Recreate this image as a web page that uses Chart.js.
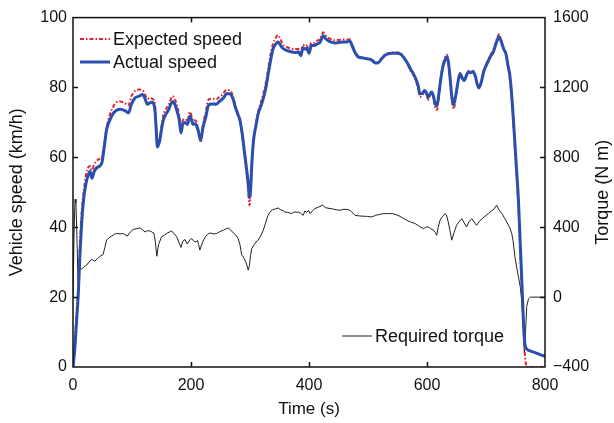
<!DOCTYPE html>
<html>
<head>
<meta charset="utf-8">
<script src="https://cdn.jsdelivr.net/npm/chart.js@4"></script>
<style>
  html, body { margin: 0; padding: 0; background: #fff; }
  #wrap { width: 614px; height: 423px; }
</style>
</head>
<body>
<div id="wrap"><canvas id="c" width="614" height="423"></canvas></div>
<script>
// Drive cycle: vehicle speed (km/h) and required torque (N m) over time (s)
const timeSpeed = [
  0, 3, 6, 9, 12, 15, 18, 22, 26, 29,
  32, 36, 40, 45, 49, 53, 57, 62, 68, 74,
  80, 88, 94, 99, 105, 112, 118, 122, 126, 130,
  134, 139, 141, 143, 147, 150, 153, 158, 162, 166,
  169, 173, 176, 180, 183, 186, 190, 194, 198, 201,
  203, 207, 210, 213, 216.5, 220, 225, 230, 236, 243,
  248, 252, 256, 260, 265, 269, 272, 275, 279, 283,
  287, 291, 294, 297, 299, 301, 303, 306, 310, 314,
  318, 322, 327, 331, 335, 339, 343, 347, 351, 355,
  362, 368, 373, 378, 382, 386, 390, 393, 396, 400,
  404, 409, 413, 419, 424, 428, 433, 438, 444, 450,
  458, 464, 469, 473, 478, 484, 490, 498, 505, 511,
  515, 519, 523, 529, 534, 541, 549, 555, 560, 565,
  569, 573, 577, 581, 585, 588, 592, 596, 599, 602,
  605, 608, 611, 614, 617, 620, 623, 627, 631, 633,
  636, 639, 642, 645, 649, 653, 656, 660, 663, 667,
  670, 674, 678, 682, 685, 688, 692, 696, 700, 704,
  708, 712, 716, 720, 722, 726, 730, 734, 737, 740,
  743, 746, 749, 752, 755, 758, 761, 764, 766, 769,
  775, 782, 790, 800
];

const actualSpeed = [
  0, 5, 13, 21, 33, 42, 48, 52.5, 55, 56,
  54, 56, 57, 57.5, 58.5, 63, 68, 70.5, 72.5, 73.5,
  73.8, 73.4, 72.7, 75.2, 77, 77.5, 78, 76.8, 75.2, 75.6,
  75.8, 73.2, 68, 63, 64.8, 68, 70.6, 72.5, 73.6, 75.3,
  76, 75, 73.4, 70.8, 67, 69.5, 70, 69.4, 71.8, 70.8,
  69.5, 69.6, 68.8, 67, 64.9, 68.3, 71.5, 75, 75.3, 75.2,
  76, 76.5, 77.2, 78.2, 78.2, 77.6, 76.3, 74.4, 72.5, 70.6,
  66.5, 61, 57, 52.5, 48.5, 50.6, 58, 64.9, 69, 72.5,
  74.5, 76.5, 80, 84, 87.8, 91, 92.3, 93, 92.3, 91.3,
  90.6, 90.3, 90.1, 90, 90.2, 89.1, 91.4, 91, 91.2, 89.8,
  92, 92, 92.4, 93, 94.8, 94, 93.3, 93, 92.7, 92.9,
  93, 93, 93.3, 92, 90, 88.7, 88.5, 88.2, 88, 87.2,
  87, 87.3, 88.2, 89.2, 89.6, 89.8, 89.8, 89.6, 88.7, 87.5,
  86.3, 85, 83.9, 82.5, 80.5, 78.2, 78.3, 79.1, 78.5, 77.2,
  78, 78.7, 77.5, 75.2, 74.8, 78, 82, 86, 88, 88.7,
  87.5, 83, 77.5, 75, 78, 82, 83.9, 82.6, 82, 83.5,
  84.4, 84.2, 84.4, 83.2, 81, 80, 81.5, 84.5, 86.2, 87.6,
  89, 90, 92, 94, 94.5, 93, 91, 89.5, 86.5, 84,
  79, 72, 64, 56, 47.7, 35.5, 23.5, 11, 6.5, 5.2,
  4.6, 4.2, 3.7, 3
];

const expectedSpeed = [
  0, 7, 15, 24, 36, 45, 50, 55, 57.2, 57.5,
  56.3, 58, 59, 59.6, 60.3, 64, 68.5, 72, 74.5, 75.8,
  76, 75.5, 74.9, 77.5, 79, 79.4, 79.2, 78, 76.8, 77,
  76.8, 75, 69, 63.5, 65.5, 69, 72, 74, 75, 76.8,
  77.5, 76.5, 75, 72, 68, 70.5, 71, 70.4, 73, 71.8,
  70.4, 70.6, 69.8, 67.5, 64.3, 69, 73, 76.6, 76.8, 76.6,
  77.3, 77.8, 78.6, 79.3, 79.2, 78.4, 77, 75, 73, 70.6,
  66, 60, 55.5, 50.5, 46.3, 49.5, 57.5, 64.9, 69.5, 73.2,
  75.5, 77.8, 81.5, 85.5, 89.5, 92.6, 94, 95, 94, 92.5,
  91.6, 91.2, 91, 91, 91, 90, 92.2, 91.8, 92, 90.7,
  92.8, 92.8, 93.3, 94, 95.8, 95, 94.2, 93.8, 93.5, 93.6,
  93.7, 93.7, 93.8, 92.3, 90.2, 88.8, 88.6, 88.3, 88, 87,
  86.8, 87.2, 88.3, 89.4, 89.8, 90, 90, 89.8, 88.8, 87.5,
  86, 84.5, 83.5, 82, 79.5, 77.3, 77.8, 78.8, 78, 76.5,
  77.7, 78.5, 77, 74.2, 73.6, 77.5, 82.2, 86.5, 88.8, 89.4,
  88, 82.5, 76.5, 73.8, 77.5, 82, 84.2, 82.8, 82.2, 83.8,
  84.8, 84.5, 84.8, 83.4, 80.8, 79.7, 81.5, 84.8, 86.6, 88,
  89.5, 90.6, 92.6, 94.6, 95.2, 93.6, 91.3, 89.5, 86.2, 83.2,
  78, 70.5, 62.5, 54, 45.5, 33.5, 21, 9.5, 3.5, 0,
  0, 0, 0, 0
];

const timeTorque = [
  0, 2, 3.5, 5, 7, 8.5, 10, 12, 14.7, 19,
  23, 27, 31.6, 34, 37, 42, 46, 51, 54, 57,
  61, 65.6, 70, 74, 80, 85, 88, 92, 97, 102,
  108, 113.6, 118, 122, 126, 130.5, 134, 137, 139.5, 142,
  145, 150, 155, 159, 163, 167, 171, 176, 180, 183,
  186, 190, 193, 195, 198, 201, 205, 208.5, 211, 213,
  215, 219, 224, 228, 232, 238, 243.6, 249, 255, 259,
  263, 267, 272, 276, 280, 283, 286, 288, 290, 293,
  295, 297, 299, 301, 303, 307, 310, 314, 318, 322.6,
  326, 330, 334, 338, 343, 348, 352, 356, 359, 364,
  370.7, 375, 380, 382, 386, 390, 393, 396, 399, 402,
  406, 410, 416, 423, 428, 435.6, 440, 446, 452.5, 459,
  466.7, 472, 478, 485, 492, 499, 506, 513, 520, 527,
  534.5, 542, 551, 558, 565.6, 572, 580, 587, 594, 598,
  602, 606, 611, 614, 616.5, 619, 622, 626, 630.5, 633,
  636, 639, 642, 646, 650, 654, 659, 663, 667, 671,
  676, 680, 684, 688, 693, 698, 704, 710, 714, 718,
  722, 727, 731, 735, 740, 743.6, 746, 749, 752, 755,
  758, 760.5, 762, 763.6, 765, 767, 769, 772, 775, 800
];

const requiredTorque = [
  0, 400, 560, 540, 300, 90, 150, 165, 160, 175,
  183, 200, 217, 212, 206, 222, 234, 244, 285, 326,
  340, 349, 360, 364, 362, 364, 358, 349, 372, 387,
  392, 396, 385, 373, 380, 379, 372, 367, 320, 234,
  300, 345, 356, 364, 372, 379, 365, 345, 310, 284,
  320, 330, 305, 310, 328, 335, 320, 316, 325, 300,
  269, 310, 345, 360, 367, 362, 364, 375, 383, 390,
  396, 385, 367, 355, 335, 300, 240, 235, 221, 200,
  180, 154, 180, 240, 278, 300, 315, 326, 350, 383,
  420, 465, 487, 500, 505, 510, 500, 495, 487, 485,
  478, 488, 485, 487, 480, 468, 493, 485, 497, 478,
  495, 507, 515, 526, 512, 507, 505, 500, 497, 503,
  501, 490, 468, 465, 463, 462, 459, 468, 474, 478,
  478, 478, 468, 455, 440, 430, 421, 405, 392, 400,
  402, 392, 383, 370, 354, 400, 440, 460, 478, 470,
  430, 380, 326, 370, 411, 430, 449, 425, 402, 430,
  449, 430, 411, 430, 449, 462, 478, 495, 505, 526,
  500, 478, 455, 430, 400, 364, 320, 230, 170, 116,
  60, -17, -100, -189, -320, -200, -55, -10, 0, 0
];

const timeTicks = [0, 200, 400, 600, 800];
const speedTicks = [0, 20, 40, 60, 80, 100];
const torqueTicks = [-400, 0, 400, 800, 1200, 1600];

const FONT = '"Liberation Sans", Arial, Helvetica, sans-serif';
const INK = '#111';

const toPoints = (xs, ys) => xs.map((x, i) => ({ x, y: ys[i] }));

// Frame with inward tick marks on all four sides, the right-hand axis title
// (reading upwards like the left one) and the two in-plot legends
const framePlugin = {
  id: 'frameAndLegends',
  afterDraw(chart) {
    const { ctx, chartArea: a, scales } = chart;
    const len = 5;
    ctx.save();
    ctx.strokeStyle = INK;
    ctx.lineWidth = 1.5;
    ctx.strokeRect(a.left, a.top, a.right - a.left, a.bottom - a.top);
    ctx.beginPath();
    timeTicks.slice(1, -1).forEach(v => {
      const x = Math.round(scales.x.getPixelForValue(v)) + 0.5;
      ctx.moveTo(x, a.bottom); ctx.lineTo(x, a.bottom - len);
      ctx.moveTo(x, a.top); ctx.lineTo(x, a.top + len);
    });
    speedTicks.slice(1, -1).forEach(v => {
      const y = Math.round(scales.y.getPixelForValue(v)) + 0.5;
      ctx.moveTo(a.left, y); ctx.lineTo(a.left + len, y);
    });
    torqueTicks.slice(1, -1).forEach(v => {
      const y = Math.round(scales.y2.getPixelForValue(v)) + 0.5;
      ctx.moveTo(a.right, y); ctx.lineTo(a.right - len, y);
    });
    ctx.stroke();

    // right axis title
    ctx.save();
    ctx.translate(chart.width - 11, (a.top + a.bottom) / 2);
    ctx.rotate(-Math.PI / 2);
    ctx.fillStyle = INK;
    ctx.font = '18px ' + FONT;
    ctx.textAlign = 'center';
    ctx.textBaseline = 'middle';
    ctx.fillText('Torque (N m)', 0, 0);
    ctx.restore();

    const entry = (ds, x, y) => {
      ctx.save();
      ctx.strokeStyle = ds.borderColor;
      ctx.lineWidth = ds.borderWidth;
      ctx.setLineDash(ds.borderDash || []);
      ctx.beginPath();
      ctx.moveTo(x, y); ctx.lineTo(x + 30, y);
      ctx.stroke();
      ctx.restore();
      ctx.fillStyle = INK;
      ctx.font = '18px ' + FONT;
      ctx.textBaseline = 'middle';
      ctx.textAlign = 'left';
      ctx.fillText(ds.label, x + 33, y + 1);
    };
    const ds = chart.data.datasets;
    entry(ds[1], 80, 39);
    entry(ds[0], 80, 62);
    entry(ds[2], 342, 336);
    ctx.restore();
  }
};

const tickFont = { family: FONT, size: 16 };
const titleFont = { family: FONT, size: 18 };

new Chart(document.getElementById('c'), {
  type: 'line',
  data: {
    datasets: [
      {
        label: 'Actual speed',
        data: toPoints(timeSpeed, actualSpeed),
        yAxisID: 'y',
        borderColor: '#2a4fae',
        borderWidth: 3,
        cubicInterpolationMode: 'monotone',
        order: 0
      },
      {
        label: 'Expected speed',
        data: toPoints(timeSpeed, expectedSpeed),
        yAxisID: 'y',
        borderColor: '#e4222b',
        borderWidth: 2,
        borderDash: [4, 2, 1.5, 2],
        cubicInterpolationMode: 'monotone',
        order: 1
      },
      {
        label: 'Required torque',
        data: toPoints(timeTorque, requiredTorque),
        yAxisID: 'y2',
        borderColor: '#222',
        borderWidth: 1,
        tension: 0,
        order: 2
      }
    ]
  },
  options: {
    responsive: false,
    animation: false,
    devicePixelRatio: 1,
    layout: { padding: { top: 17, left: 0, right: 0, bottom: 0 } },
    elements: { point: { radius: 0 }, line: { fill: false } },
    plugins: { legend: { display: false }, tooltip: { enabled: false } },
    scales: {
      x: {
        type: 'linear',
        min: 0, max: 800,
        afterBuildTicks: s => { s.ticks = timeTicks.map(v => ({ value: v })); },
        afterFit: s => { s.height = 56; },
        grid: { display: false, drawTicks: false },
        border: { display: false },
        ticks: { font: tickFont, color: INK, padding: 9, maxRotation: 0 },
        title: { display: true, text: 'Time (s)', font: { family: FONT, size: 17 }, color: INK, padding: { top: 0, bottom: 3 } }
      },
      y: {
        type: 'linear',
        position: 'left',
        min: 0, max: 100,
        afterBuildTicks: s => { s.ticks = speedTicks.map(v => ({ value: v })); },
        afterFit: s => { s.width = 73; },
        grid: { display: false, drawTicks: false },
        border: { display: false },
        ticks: { font: tickFont, color: INK, padding: 6 },
        title: { display: true, text: 'Vehicle speed (km/h)', font: titleFont, color: INK, padding: { top: 6, bottom: 0 } }
      },
      y2: {
        type: 'linear',
        position: 'right',
        min: -400, max: 1600,
        afterBuildTicks: s => { s.ticks = torqueTicks.map(v => ({ value: v })); },
        afterFit: s => { s.width = 69; },
        grid: { display: false, drawTicks: false },
        border: { display: false },
        ticks: {
          font: tickFont, color: INK, padding: 8,
          callback: v => (v < 0 ? '\u2212' + Math.abs(v) : String(v))
        },
        title: { display: false }
      }
    }
  },
  plugins: [framePlugin]
});
</script>
</body>
</html>
